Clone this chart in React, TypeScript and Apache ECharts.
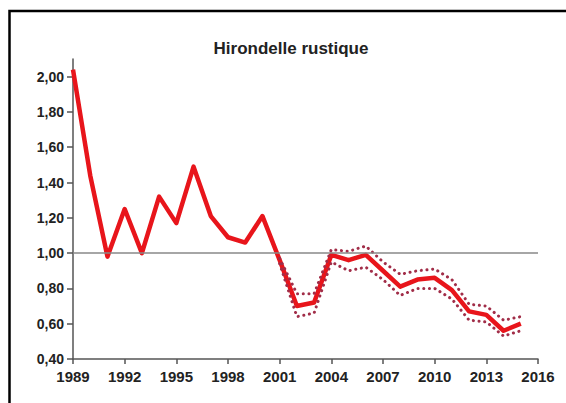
import React, { useEffect, useRef } from "react";
import * as echarts from "echarts";

const years = [1989,1990,1991,1992,1993,1994,1995,1996,1997,1998,1999,2000,2001,2002,2003,2004,2005,2006,2007,2008,2009,2010,2011,2012,2013,2014,2015];
const index = [2.04,1.44,0.98,1.25,1.00,1.32,1.17,1.49,1.21,1.09,1.06,1.21,0.96,0.70,0.72,0.99,0.96,0.99,0.90,0.81,0.85,0.86,0.79,0.67,0.65,0.56,0.60];
const bandYears = [2001,2002,2003,2004,2005,2006,2007,2008,2009,2010,2011,2012,2013,2014,2015];
const upper = [0.97,0.77,0.77,1.02,1.01,1.04,0.95,0.88,0.90,0.91,0.85,0.71,0.70,0.62,0.64];
const lower = [0.94,0.64,0.66,0.95,0.90,0.92,0.85,0.76,0.80,0.80,0.74,0.62,0.61,0.53,0.56];
const yTicks = [0.4,0.6,0.8,1.0,1.2,1.4,1.6,1.8,2.0];
const xTicks = [1989,1992,1995,1998,2001,2004,2007,2010,2013,2016];
const title = "Hirondelle rustique";

export default function App() {
  const ref = useRef<HTMLDivElement>(null);
  useEffect(() => {
    if (!ref.current) return;
    const chart = echarts.init(ref.current, null, { renderer: "svg" });
    const pair = (xs: number[], ys: number[]) => xs.map((x, i) => [x, ys[i]]);
    const dotStyle = {
      color: "#a12d48",
      width: 3,
      type: [0.1, 5.6] as any,
      cap: "round" as any,
    };
    chart.setOption({
      animation: false,
      backgroundColor: "#ffffff",
      title: {
        text: title,
        left: 286,
        textAlign: "center",
        top: 35,
        textStyle: { fontFamily: "Liberation Sans, Arial, sans-serif", fontSize: 17, fontWeight: "bold", color: "#222" },
      },
      graphic: [
        {
          type: "rect",
          shape: { x: 9.5, y: 11, width: 700, height: 600 },
          style: { fill: "none", stroke: "#000", lineWidth: 2.5 },
          silent: true,
        },
      ],
      grid: { left: 73, right: 28, top: 59, bottom: 44 },
      xAxis: {
        type: "value",
        min: 1989,
        max: 2016,
        interval: 3,
        axisLine: { lineStyle: { color: "#555", width: 1.5 } },
        axisTick: { show: true, length: 5, lineStyle: { color: "#555", width: 1.5 }, customValues: xTicks },
        axisLabel: {
          customValues: xTicks,
          formatter: (v: number) => String(v),
          color: "#222",
          fontFamily: "Liberation Sans, Arial, sans-serif",
          fontSize: 15,
          fontWeight: "bold",
          margin: 10,
        },
        splitLine: { show: false },
      },
      yAxis: {
        type: "value",
        min: 0.4,
        max: 2.1,
        interval: 0.2,
        axisLine: { show: true, lineStyle: { color: "#555", width: 1.5 } },
        axisTick: { show: true, length: 6, lineStyle: { color: "#555", width: 1.5 }, customValues: yTicks },
        axisLabel: {
          customValues: yTicks,
          formatter: (v: number) => v.toFixed(2).replace(".", ","),
          color: "#222",
          fontFamily: "Liberation Sans, Arial, sans-serif",
          fontSize: 14,
          fontWeight: "bold",
          margin: 9,
        },
        splitLine: { show: false },
      },
      series: [
        {
          type: "line",
          data: pair(years, index),
          symbol: "none",
          lineStyle: { color: "#e8151b", width: 4.5, join: "round" as any },
          z: 3,
          markLine: {
            silent: true,
            symbol: "none",
            label: { show: false },
            lineStyle: { color: "#888", width: 1.5, type: "solid" },
            data: [{ yAxis: 1 }],
          },
        },
        {
          type: "line",
          data: pair(bandYears, upper),
          symbol: "none",
          lineStyle: dotStyle,
          z: 4,
        },
        {
          type: "line",
          data: pair(bandYears, lower),
          symbol: "none",
          lineStyle: dotStyle,
          z: 4,
        },
      ],
    });
    return () => chart.dispose();
  }, []);
  return <div ref={ref} style={{ position: "absolute", left: 0, top: 0, width: 566, height: 403 }} />;
}
